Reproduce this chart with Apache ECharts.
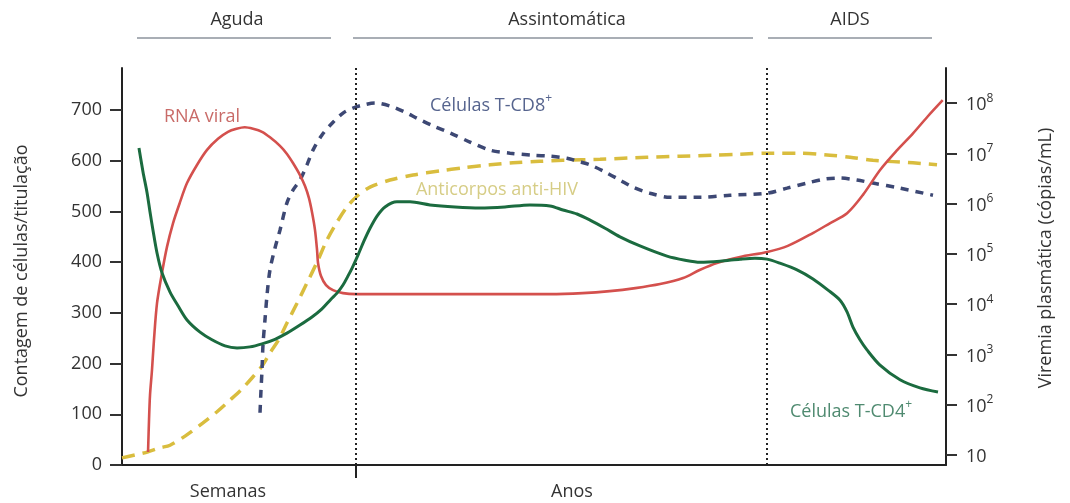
<!DOCTYPE html>
<html>
<head>
<meta charset="utf-8">
<script src="https://cdn.jsdelivr.net/npm/echarts@6/dist/echarts.min.js"></script>
<style>html,body{margin:0;padding:0;background:#fff}#c{width:1070px;height:503px}</style>
</head>
<body>
<div id="c"></div>
<script>
// schematic time axis (0-100), left axis: cell count / titre, right axis: log10 copies/mL
const leftTicks = [0, 100, 200, 300, 400, 500, 600, 700];
const rightTicks = [1, 2, 3, 4, 5, 6, 7, 8];
const phaseBoundaries = [28.4, 78.2];
const phaseNames = ['Aguda', 'Assintomática', 'AIDS'];
const timeNames = ['Semanas', 'Anos'];

// Células T-CD4+ (left axis)
const cd4 = [[2.06,625],[2.55,578],[3.03,538],[3.40,499],[3.76,463],[4.25,418],[4.85,379],[5.83,341],[6.80,314],[7.89,286],[9.47,262],[10.92,247],[12.50,235],[13.96,231],[15.53,233],[16.99,239],[18.57,248],[20.02,260],[21.60,276],[23.06,292],[24.27,308],[25.36,327],[26.09,339],[26.82,355],[27.43,373],[27.91,388],[28.64,414],[29.37,442],[30.10,467],[30.95,491],[31.92,509],[33.37,519],[34.95,519],[37.38,513],[40.41,509],[43.45,507],[46.48,509],[49.51,513],[51.94,511],[53.52,503],[55.22,495],[56.80,483],[58.62,467],[60.44,450],[62.86,432],[66.14,412],[68.33,404],[70.15,400],[72.57,402],[75.00,406],[76.82,408],[78.28,406],[79.85,398],[81.92,385],[83.86,367],[85.68,345],[87.14,325],[87.99,302],[88.71,272],[89.56,247],[90.41,227],[91.99,197],[94.42,168],[96.84,152],[99.03,144]];
// Células T-CD8+ (left axis)
const cd8 = [[16.75,103],[16.87,148],[16.99,187],[17.11,237],[17.35,286],[17.60,335],[17.96,385],[18.57,428],[19.17,463],[20.02,517],[20.75,542],[21.60,562],[22.45,592],[23.18,621],[24.27,651],[25.61,676],[26.82,694],[28.03,704],[29.25,710],[30.70,714],[32.52,708],[34.34,696],[35.80,684],[37.74,669],[39.81,655],[42.23,637],[44.66,621],[47.09,615],[49.88,611],[51.94,609],[54.00,605],[55.58,598],[56.80,592],[58.62,578],[60.44,562],[62.01,548],[64.08,536],[66.50,528],[70.15,528],[73.79,532],[78.28,536],[80.70,546],[83.13,556],[85.32,564],[87.14,566],[89.20,562],[91.14,556],[94.42,546],[98.42,532]];
// Anticorpos anti-HIV (left axis)
const antibodies = [[0,14],[1.58,20],[3.16,26],[4.61,34],[5.83,39],[7.65,57],[9.83,83],[11.53,105],[13.11,128],[14.56,150],[15.90,174],[16.99,195],[17.96,221],[19.05,248],[20.02,280],[21.24,319],[22.45,359],[23.67,400],[24.88,444],[26.09,479],[27.31,509],[28.52,530],[30.10,548],[32.52,562],[35.32,572],[38.59,580],[41.38,586],[44.66,592],[47.45,596],[50.73,599],[53.52,601],[58.01,603],[63.71,607],[67.72,609],[71.72,611],[75.00,613],[78.28,615],[82.28,615],[85.92,611],[88.35,607],[91.14,601],[95.99,596],[98.91,592]];
// RNA viral, log10 copies/mL (right axis)
const rnaLog = [[3.16,1.06],[3.28,1.70],[3.40,2.19],[3.64,2.69],[3.88,3.29],[4.25,4.02],[4.85,4.62],[5.46,5.14],[6.19,5.61],[7.04,6.03],[7.89,6.41],[9.10,6.77],[10.32,7.07],[11.65,7.29],[12.86,7.43],[13.90,7.49],[14.90,7.52],[15.90,7.49],[16.99,7.43],[17.96,7.32],[19.17,7.15],[20.02,6.99],[20.75,6.81],[21.60,6.57],[22.21,6.35],[22.69,6.11],[23.06,5.83],[23.42,5.48],[23.67,5.08],[23.79,4.82],[24.15,4.56],[24.76,4.38],[25.61,4.28],[26.82,4.22],[28.40,4.20],[33.70,4.20],[39.80,4.20],[45.90,4.20],[51.90,4.20],[55.90,4.22],[59.20,4.26],[62.30,4.32],[65.30,4.40],[68.10,4.52],[70.10,4.68],[72.20,4.82],[75.00,4.94],[78.30,5.04],[80.80,5.16],[83.90,5.42],[85.90,5.61],[88.00,5.81],[89.90,6.17],[92.00,6.67],[94.10,7.07],[96.00,7.40],[97.80,7.74],[99.60,8.06]];

const FONT = 'Open Sans';
const sup = {'1':'','2':'2','3':'3','4':'4','5':'5','6':'6','7':'7','8':'8'};

const chart = echarts.init(document.getElementById('c'), null, {renderer: 'canvas'});

function txt(text, x, y, color, size, extra) {
  return Object.assign({
    type: 'text', x: x, y: y, silent: true,
    style: {text: text, fill: color, font: size + 'px "' + FONT + '"', align: 'center', verticalAlign: 'middle'}
  }, extra || {});
}
function richTxt(base, supTxt, x, y, color) {
  return {
    type: 'text', x: x, y: y, silent: true,
    style: {
      text: '{b|' + base + '}{s|' + supTxt + '}', align: 'left', verticalAlign: 'middle',
      rich: {
        b: {fill: color, fontFamily: FONT, fontSize: 18, lineHeight: 22, verticalAlign: 'bottom'},
        s: {fill: color, fontFamily: FONT, fontSize: 12, lineHeight: 22, verticalAlign: 'top'}
      }
    }
  };
}
function hline(x1, x2, y) {
  return {type: 'line', silent: true, shape: {x1: x1, y1: y, x2: x2, y2: y}, style: {stroke: '#a9aeb5', lineWidth: 2}};
}

const option = {
  animation: false,
  backgroundColor: '#ffffff',
  grid: {left: 122, right: 124, top: 68, bottom: 38},
  xAxis: {
    type: 'value', min: 0, max: 100,
    axisLine: {show: true, onZero: false, lineStyle: {color: '#222', width: 2}},
    axisTick: {show: true, inside: false, length: 13, customValues: [phaseBoundaries[0]], lineStyle: {color: '#222', width: 2}},
    axisLabel: {show: false},
    splitLine: {show: false}
  },
  yAxis: [{
    type: 'value', min: 0, max: 783, position: 'left',
    axisLine: {show: true, lineStyle: {color: '#222', width: 2}},
    axisTick: {show: true, length: 12, customValues: leftTicks, lineStyle: {color: '#333', width: 2}},
    axisLabel: {show: true, customValues: leftTicks, margin: 20, color: '#333', fontFamily: FONT, fontSize: 18},
    splitLine: {show: false}
  }, {
    type: 'value', min: 0.8, max: 8.7, position: 'right',
    axisLine: {show: true, lineStyle: {color: '#222', width: 2}},
    axisTick: {show: true, length: 11, customValues: rightTicks, lineStyle: {color: '#333', width: 2}},
    axisLabel: {
      show: true, customValues: rightTicks, margin: 20, color: '#333',
      formatter: function (v) { const k = String(Math.round(v)); return k === '1' ? '{b|10}' : '{b|10}{s|' + sup[k] + '}'; },
      rich: {
        b: {fontFamily: FONT, fontSize: 18, color: '#333', lineHeight: 22, verticalAlign: 'bottom'},
        s: {fontFamily: FONT, fontSize: 12, color: '#333', lineHeight: 22, verticalAlign: 'top'}
      }
    },
    splitLine: {show: false}
  }],
  series: [{
    name: 'Anticorpos anti-HIV', type: 'line', data: antibodies, yAxisIndex: 0,
    smooth: 0.3, showSymbol: false, z: 2,
    lineStyle: {color: '#d9bd3e', width: 3.5, type: [13, 8]},
    markLine: {
      silent: true, symbol: 'none', label: {show: false},
      lineStyle: {color: '#222', width: 2, type: [2, 3]},
      data: phaseBoundaries.map(function (v) { return {xAxis: v}; })
    }
  }, {
    name: 'Células T-CD8+', type: 'line', data: cd8, yAxisIndex: 0,
    smooth: 0.3, showSymbol: false, z: 3,
    lineStyle: {color: '#3d4874', width: 3.5, type: [8, 7]}
  }, {
    name: 'RNA viral', type: 'line', data: rnaLog, yAxisIndex: 1,
    smooth: 0.3, showSymbol: false, z: 4,
    lineStyle: {color: '#d4504d', width: 2.6}
  }, {
    name: 'Células T-CD4+', type: 'line', data: cd4, yAxisIndex: 0,
    smooth: 0.3, showSymbol: false, z: 5,
    lineStyle: {color: '#1b6b3f', width: 3}
  }],
  graphic: [
    txt(phaseNames[0], 237, 20, '#333', 18),
    txt(phaseNames[1], 567, 20, '#333', 18),
    txt(phaseNames[2], 850, 20, '#333', 18),
    hline(137, 331, 38), hline(353, 753, 38), hline(768, 932, 38),
    txt(timeNames[0], 228, 492, '#333', 18),
    txt(timeNames[1], 572, 492, '#333', 18),
    txt('Contagem de células/titulação', 22, 271, '#333', 18, {rotation: Math.PI / 2}),
    txt('Viremia plasmática (cópias/mL)', 1046, 258, '#333', 18, {rotation: Math.PI / 2}),
    txt('RNA viral', 202, 117, '#c96b68', 18),
    richTxt('Células T-CD8', '+', 430, 104, '#56648e'),
    txt('Anticorpos anti-HIV', 497, 190, '#d6cd86', 18),
    richTxt('Células T-CD4', '+', 790, 410, '#4f8a70')
  ]
};
chart.setOption(option);
</script>
</body>
</html>
